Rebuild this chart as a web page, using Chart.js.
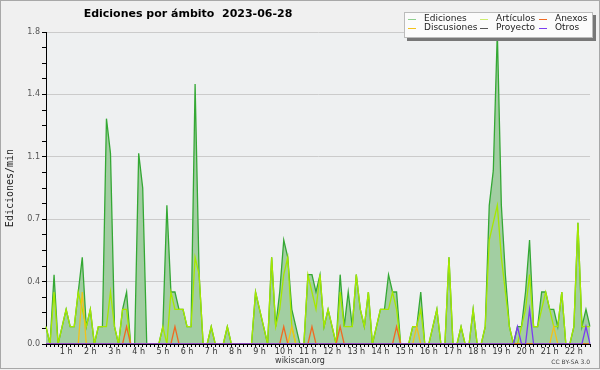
<!DOCTYPE html>
<html>
<head>
<meta charset="utf-8">
<script src="https://cdn.jsdelivr.net/npm/chart.js@4.4.1/dist/chart.umd.min.js"></script>
<style>body{margin:0;background:#f0f0f0}</style>
</head>
<body>
<canvas id="graf" width="600" height="370"></canvas>
<script>
// ediciones/min, una muestra cada 10 min desde las 00:10
const ediciones = [
  0.1,0,0.4,0,0.1,0.2,0.1,0.1,0.3,0.5,0.1,0.2,
  0,0.1,0.1,1.3,1.1,0.1,0,0.2,0.3,0,0,1.1,
  0.9,0,0,0,0,0.1,0.8,0.3,0.3,0.2,0.2,0.1,
  0.1,1.5,0.4,0,0,0.1,0,0,0,0.1,0,0,
  0,0,0,0,0.3,0.2,0.1,0,0.5,0.1,0.3,0.6,
  0.5,0.2,0.1,0,0,0.4,0.4,0.3,0.4,0.1,0.2,0.1,
  0,0.4,0.1,0.3,0.1,0.4,0.2,0.1,0.3,0,0.1,0.2,
  0.2,0.4,0.3,0.3,0,0,0,0.1,0.1,0.3,0,0,
  0.1,0.2,0,0,0.5,0,0,0.1,0,0,0.2,0,
  0,0.1,0.8,1.0,1.8,0.8,0.4,0.1,0,0.1,0.1,0.3,
  0.6,0.1,0.1,0.3,0.3,0.2,0.2,0.1,0.3,0,0,0.1,
  0.7,0.1,0.2,0.1
];
const articulos = [
  0.1,0,0.3,0,0.1,0.2,0.1,0.1,0.3,0.2,0.1,0.2,
  0,0.1,0.1,0.1,0.3,0.1,0,0.2,0.2,0,0,0,
  0,0,0,0,0,0.1,0,0.3,0.2,0.2,0.2,0.1,
  0.1,0.5,0.4,0,0,0.1,0,0,0,0.1,0,0,
  0,0,0,0,0.3,0.2,0.1,0,0.5,0.1,0.2,0.4,
  0.5,0.1,0,0,0,0.4,0.3,0.2,0.4,0.1,0.2,0.1,
  0,0.3,0.1,0.1,0.1,0.4,0.2,0.1,0.3,0,0.1,0.2,
  0.2,0.2,0.3,0.2,0,0,0,0.1,0.1,0.2,0,0,
  0.1,0.2,0,0,0.5,0,0,0.1,0,0,0.2,0,
  0,0.1,0.6,0.7,0.8,0.5,0.3,0.1,0,0,0.1,0.2,
  0.4,0.1,0.1,0.2,0.3,0.2,0.1,0.1,0.3,0,0,0.1,
  0.7,0.1,0.1,0.1
];
const discusiones = [
  0,0,0,0,0,0,0,0,0,0.3,0,0,
  0,0,0,0,0,0,0,0,0,0,0,0,
  0,0,0,0,0,0,0,0,0,0,0,0,
  0,0,0,0,0,0,0,0,0,0,0,0,
  0,0,0,0,0,0,0,0,0,0,0,0,
  0,0.1,0,0,0,0,0,0,0,0,0,0,
  0,0,0,0,0,0,0,0,0,0,0,0,
  0,0,0,0,0,0,0,0,0.1,0,0,0,
  0,0,0,0,0,0,0,0,0,0,0,0,
  0,0,0,0,0,0,0,0,0,0,0,0,
  0,0,0,0,0,0,0.1,0,0,0,0,0,
  0,0,0,0
];
const anexos = [
  0,0,0,0,0,0,0,0,0,0,0,0,
  0,0,0,0,0,0,0,0,0.1,0,0,0,
  0,0,0,0,0,0,0,0,0.1,0,0,0,
  0,0,0,0,0,0,0,0,0,0,0,0,
  0,0,0,0,0,0,0,0,0,0,0,0.1,
  0,0,0,0,0,0,0.1,0,0,0,0,0,
  0,0.1,0,0,0,0,0,0,0,0,0,0,
  0,0,0,0.1,0,0,0,0,0,0,0,0,
  0,0,0,0,0,0,0,0,0,0,0,0,
  0,0,0,0,0,0,0,0,0,0,0,0,
  0,0,0,0,0,0,0,0,0,0,0,0,
  0,0,0,0
];
const proyecto = [
  0,0,0,0,0,0,0,0,0,0,0,0,
  0,0,0,0,0,0,0,0,0,0,0,0,
  0,0,0,0,0,0,0,0,0,0,0,0,
  0,0,0,0,0,0,0,0,0,0,0,0,
  0,0,0,0,0,0,0,0,0,0,0,0,
  0,0,0,0,0,0,0,0,0,0,0,0,
  0,0,0,0,0,0,0,0,0,0,0,0,
  0,0,0,0,0,0,0,0,0,0,0,0,
  0,0,0,0,0,0,0,0,0,0,0,0,
  0,0,0,0,0,0,0,0,0,0,0,0,
  0,0,0,0,0,0,0,0,0,0,0,0,
  0,0,0,0
];
const otros = [
  0,0,0,0,0,0,0,0,0,0,0,0,
  0,0,0,0,0,0,0,0,0,0,0,0,
  0,0,0,0,0,0,0,0,0,0,0,0,
  0,0,0,0,0,0,0,0,0,0,0,0,
  0,0,0,0,0,0,0,0,0,0,0,0,
  0,0,0,0,0,0,0,0,0,0,0,0,
  0,0,0,0,0,0,0,0,0,0,0,0,
  0,0,0,0,0,0,0,0,0,0,0,0,
  0,0,0,0,0,0,0,0,0,0,0,0,
  0,0,0,0,0,0,0,0,0,0.1,0,0,
  0.2,0,0,0,0,0,0,0,0,0,0,0,
  0,0,0.1,0
];
const horas = ['1 h','2 h','3 h','4 h','5 h','6 h','7 h','8 h','9 h','10 h','11 h',
  '12 h','13 h','14 h','15 h','16 h','17 h','18 h','19 h','20 h','21 h','22 h'];
const marcasY = ['0.0','0.4','0.7','1.1','1.4','1.8'];

const tiempos = ediciones.map((v, i) => {
  const m = (i + 1) * 10;
  return String(Math.floor(m / 60)).padStart(2, '0') + ':' + String(m % 60).padStart(2, '0');
});

Chart.defaults.font.family = '"DejaVu Sans", sans-serif';

function serie(label, data, color, orden, extra) {
  return Object.assign({
    label: label, data: data, borderColor: color, borderWidth: 1.3,
    pointRadius: 0, tension: 0, fill: false, order: orden
  }, extra || {});
}

const fondo = {
  id: 'fondo',
  beforeDraw(chart) {
    const c = chart.ctx, a = chart.chartArea;
    c.save();
    c.fillStyle = '#f0f0f0';
    c.fillRect(0, 0, chart.width, chart.height);
    c.fillStyle = '#eef0f1';
    c.fillRect(a.left, a.top, a.right - a.left, a.bottom - a.top);
    c.strokeStyle = '#a8a8a8';
    c.strokeRect(0.5, 0.5, 599, 368);
    c.restore();
  },
  afterDraw(chart) {
    const c = chart.ctx;
    c.save();
    // titulo
    c.fillStyle = '#000';
    c.font = 'bold 11px "DejaVu Sans"';
    c.textAlign = 'center';
    c.textBaseline = 'middle';
    c.fillText('Ediciones por ámbito  2023-06-28', 188, 14);
    // leyenda
    c.fillStyle = '#777';
    c.fillRect(407, 15, 189, 26);
    c.fillStyle = '#fbfbfb';
    c.fillRect(404, 12, 189, 26);
    c.strokeStyle = '#bbb';
    c.strokeRect(404.5, 12.5, 188, 25);
    const pos = {
      'Ediciones': [408, 19], 'Artículos': [480, 19], 'Anexos': [539, 19],
      'Discusiones': [408, 28], 'Proyecto': [480, 28], 'Otros': [539, 28]
    };
    c.font = '9px "DejaVu Sans"';
    c.textAlign = 'left';
    chart.data.datasets.forEach(ds => {
      const p = pos[ds.label];
      c.strokeStyle = ds.legendColor || ds.borderColor;
      c.lineWidth = 1;
      c.beginPath();
      c.moveTo(p[0], p[1] + 0.5);
      c.lineTo(p[0] + 8, p[1] + 0.5);
      c.stroke();
      c.fillStyle = '#222';
      c.fillText(ds.label, p[0] + 16, p[1]);
    });
    // pie
    c.fillStyle = '#333';
    c.font = '8px "DejaVu Sans"';
    c.textAlign = 'center';
    c.fillText('wikiscan.org', 300, 361);
    c.font = '6px "DejaVu Sans"';
    c.textAlign = 'right';
    c.fillStyle = '#444';
    c.fillText('CC BY-SA 3.0', 590, 362);
    c.restore();
  }
};

new Chart(document.getElementById('graf'), {
  type: 'line',
  data: {
    labels: tiempos,
    datasets: [
      serie('Ediciones', ediciones, '#34a834', 6,
        { fill: 'origin', backgroundColor: '#a2cea2', legendColor: '#8fd08f' }),
      serie('Artículos', articulos, '#a6e800', 5, { legendColor: '#cdee70' }),
      serie('Discusiones', discusiones, '#f2c21a', 4),
      serie('Anexos', anexos, '#f06a22', 2),
      serie('Proyecto', proyecto, '#555555', 3),
      serie('Otros', otros, '#7b3cf0', 1)
    ]
  },
  options: {
    responsive: false,
    devicePixelRatio: 1,
    animation: false,
    layout: { padding: { top: 32, right: 10, left: 0, bottom: 0 } },
    plugins: { legend: { display: false }, title: { display: false }, tooltip: { enabled: false } },
    scales: {
      x: {
        z: 1,
        afterFit: s => { s.height = 26; },
        grid: { drawOnChartArea: false, tickLength: 3, tickColor: '#000' },
        border: { color: '#000', width: 1 },
        ticks: {
          autoSkip: false, maxRotation: 0, minRotation: 0, padding: 0,
          color: '#333', font: { size: 8 },
          callback: (v, i) => (i % 6 === 5 ? horas[(i + 1) / 6 - 1] || '' : '')
        }
      },
      y: {
        min: 0, max: 1.8,
        afterFit: s => { s.width = 46; },
        grid: {
          tickLength: 4, tickColor: '#000',
          color: ctx => (ctx.index % 4 === 0 && ctx.index > 0 ? '#cbcbcb' : 'rgba(0,0,0,0)')
        },
        border: { color: '#000', width: 1 },
        ticks: {
          stepSize: 0.09, autoSkip: false, padding: 2,
          color: '#555', font: { size: 8 },
          callback: (v, i) => (i % 4 === 0 ? marcasY[i / 4] : '')
        },
        title: {
          display: true, text: 'Ediciones/min', color: '#222',
          font: { family: '"DejaVu Sans Mono", monospace', size: 10 }
        }
      }
    }
  },
  plugins: [fondo]
});
</script>
</body>
</html>
